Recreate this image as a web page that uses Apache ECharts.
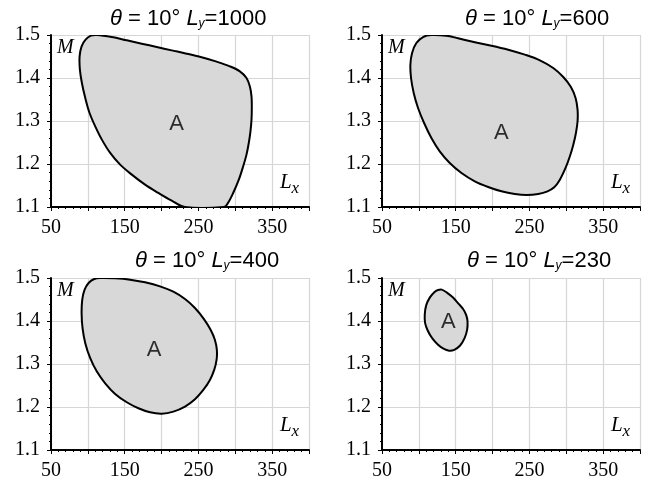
<!DOCTYPE html>
<html>
<head>
<meta charset="utf-8">
<script src="https://cdn.jsdelivr.net/npm/echarts@6/dist/echarts.min.js"></script>
<style>
  html, body { margin: 0; padding: 0; background: #fff; }
  #chart { width: 651px; height: 483px; }
</style>
</head>
<body>
<div id="chart"></div>
<script>
// Feasible region "A" in the (Lx, M) plane for theta = 10 deg and four Ly values.
const thetaDeg = 10;
const lyValues = ['1000', '600', '400', '230'];

// Axis ranges and labelled ticks
const xRange = [50, 400];
const xLabelled = [50, 150, 250, 350];
const yRange = [1.1, 1.5];
const yLabelled = ['1.1', '1.2', '1.3', '1.4', '1.5'];

// Region outlines, [Lx, M], traced clockwise from the top
const regionLy1000 = [
  [112.2, 1.5000], [132.5, 1.4953], [152.8, 1.4876], [173.1, 1.4798], [193.4, 1.4721],
  [213.7, 1.4643], [234.0, 1.4566], [254.3, 1.4481], [274.6, 1.4380], [292.6, 1.4272],
  [306.2, 1.4155], [315.2, 1.4000], [319.7, 1.3806], [322.0, 1.3574], [322.4, 1.3303],
  [322.0, 1.3031], [320.6, 1.2760], [318.3, 1.2489], [315.2, 1.2218], [310.7, 1.1946],
  [304.8, 1.1636], [297.1, 1.1326], [289.5, 1.1078], [284.5, 1.1000], [231.8, 1.1000],
  [213.7, 1.1148], [195.7, 1.1326], [177.6, 1.1520], [159.6, 1.1753], [143.8, 1.1985],
  [130.3, 1.2257], [119.0, 1.2567], [110.0, 1.2876], [102.3, 1.3187], [96.5, 1.3535],
  [91.9, 1.3884], [89.2, 1.4194], [88.8, 1.4504], [91.5, 1.4737], [96.9, 1.4892],
  [104.1, 1.4984]
];
const regionLy600 = [
  [117.0, 1.5000], [137.4, 1.4984], [153.2, 1.4923], [175.9, 1.4830], [198.5, 1.4752],
  [221.2, 1.4659], [243.8, 1.4543], [264.2, 1.4411], [282.3, 1.4233], [295.9, 1.4024],
  [306.3, 1.3791], [312.6, 1.3535], [315.3, 1.3264], [315.3, 1.2993], [313.1, 1.2722],
  [309.5, 1.2450], [304.9, 1.2179], [299.0, 1.1908], [291.3, 1.1636], [283.6, 1.1458],
  [274.6, 1.1365], [261.9, 1.1303], [246.1, 1.1280], [230.2, 1.1303], [212.1, 1.1365],
  [194.0, 1.1466], [175.9, 1.1598], [157.8, 1.1791], [141.9, 1.2024], [128.3, 1.2295],
  [117.0, 1.2605], [107.1, 1.2954], [98.9, 1.3303], [93.0, 1.3652], [89.4, 1.4000],
  [88.5, 1.4310], [90.8, 1.4582], [96.6, 1.4814], [105.7, 1.4953]
];
const regionLy400 = [
  [116.7, 1.5000], [137.0, 1.4992], [157.3, 1.4961], [177.6, 1.4899], [197.9, 1.4806],
  [216.0, 1.4681], [231.8, 1.4510], [245.3, 1.4301], [257.5, 1.4044], [266.5, 1.3796],
  [272.3, 1.3563], [275.0, 1.3329], [274.6, 1.3096], [271.4, 1.2863], [265.6, 1.2630],
  [256.6, 1.2397], [245.3, 1.2180], [231.8, 1.2009], [216.0, 1.1892], [200.2, 1.1845],
  [184.4, 1.1876], [168.6, 1.1970], [152.8, 1.2110], [137.0, 1.2304], [123.5, 1.2552],
  [112.2, 1.2824], [103.2, 1.3135], [96.5, 1.3485], [92.8, 1.3834], [91.5, 1.4184],
  [92.4, 1.4495], [95.6, 1.4728], [101.0, 1.4883], [108.6, 1.4977]
];
const regionLy230 = [
  [131, 1.473], [138, 1.466], [146, 1.455], [154, 1.440], [160, 1.428], [164, 1.415],
  [166, 1.400], [165.5, 1.380], [162, 1.360], [156, 1.343], [148, 1.333], [141, 1.331],
  [134, 1.335], [126, 1.345], [118, 1.360], [112, 1.378], [108.5, 1.395], [108, 1.415],
  [110, 1.437], [115, 1.455], [121, 1.467], [126, 1.472]
];
const regions = [regionLy1000, regionLy600, regionLy400, regionLy230];

// Where the "A" tag sits inside each region
const tagPoints = [[220.5, 1.294], [212, 1.272], [190, 1.333], [140, 1.397]];

// Panel layout
const panels = [
  { left: 51, top: 35, width: 258, height: 172, titleLeft: 110, titleTop: 8 },
  { left: 382, top: 35, width: 258, height: 172, titleLeft: 465, titleTop: 8 },
  { left: 51, top: 278, width: 258, height: 172, titleLeft: 135, titleTop: 250 },
  { left: 382, top: 278, width: 258, height: 172, titleLeft: 467, titleTop: 250 }
];

const SANS = '"Liberation Sans", Arial, sans-serif';
const SERIF = '"Liberation Serif", "Times New Roman", serif';
const GRID_GRAY = '#d6d6d6';
const FILL_GRAY = '#d8d8d8';

const option = {
  animation: false,
  backgroundColor: '#fff',
  title: panels.map((p, i) => ({
    text: '{n|\u03b8} = ' + thetaDeg + '\u00b0 {i|L}{s|y}=' + lyValues[i],
    left: p.titleLeft,
    top: p.titleTop,
    padding: 0,
    textStyle: {
      fontFamily: SANS, fontSize: 22, fontWeight: 'normal', color: '#000',
      rich: {
        n: { fontFamily: SANS, fontSize: 22, fontStyle: 'italic', color: '#000' },
        i: { fontFamily: SANS, fontSize: 22, fontStyle: 'italic', color: '#000' },
        s: { fontFamily: SANS, fontSize: 12, fontStyle: 'italic', color: '#000',
             verticalAlign: 'bottom', padding: [9, 0, 0, 0] }
      }
    }
  })),
  grid: panels.map(p => ({
    left: p.left, top: p.top, width: p.width, height: p.height, containLabel: false
  })),
  xAxis: panels.map((p, i) => ({
    type: 'value', gridIndex: i, min: xRange[0], max: xRange[1], interval: 50,
    axisLine: { show: true, onZero: false, lineStyle: { color: '#000', width: 2 } },
    axisTick: { show: true, length: 4, lineStyle: { color: '#000', width: 1 } },
    minorTick: { show: true, splitNumber: 5, length: 2, lineStyle: { color: '#000', width: 1 } },
    splitLine: { show: true, lineStyle: { color: GRID_GRAY, width: 1.2 } },
    axisLabel: {
      show: true, margin: 11, fontFamily: SERIF, fontSize: 20, color: '#000',
      showMinLabel: true, showMaxLabel: true,
      formatter: v => (xLabelled.indexOf(v) >= 0 ? String(v) : '')
    }
  })),
  yAxis: panels.map((p, i) => ({
    type: 'value', gridIndex: i, min: yRange[0], max: yRange[1], interval: 0.1,
    axisLine: { show: true, onZero: false, lineStyle: { color: '#000', width: 2 } },
    axisTick: { show: true, length: 4, lineStyle: { color: '#000', width: 1 } },
    minorTick: { show: true, splitNumber: 5, length: 2, lineStyle: { color: '#000', width: 1 } },
    splitLine: { show: true, lineStyle: { color: GRID_GRAY, width: 1.2 } },
    axisLabel: {
      show: true, margin: 11, fontFamily: SERIF, fontSize: 20, color: '#000',
      showMinLabel: true, showMaxLabel: true,
      formatter: v => {
        const s = v.toFixed(1);
        return yLabelled.indexOf(s) >= 0 ? s : '';
      }
    }
  })),
  graphic: panels.flatMap(p => [
    { type: 'text', x: p.left + 6, y: p.top + 13, silent: true,
      style: { text: 'M', fontFamily: SERIF, fontSize: 20, fontStyle: 'italic', fill: '#000',
               align: 'left', verticalAlign: 'middle' } },
    { type: 'text', x: p.left + p.width - 29, y: p.top + p.height - 25, silent: true,
      style: { text: 'L', fontFamily: SERIF, fontSize: 21, fontStyle: 'italic', fill: '#000',
               align: 'left', verticalAlign: 'middle' } },
    { type: 'text', x: p.left + p.width - 17.5, y: p.top + p.height - 18.5, silent: true,
      style: { text: 'x', fontFamily: SERIF, fontSize: 17, fontStyle: 'italic', fill: '#000',
               align: 'left', verticalAlign: 'middle' } }
  ]),
  series: [
    ...regions.map((pts, i) => ({
      type: 'custom',
      xAxisIndex: i, yAxisIndex: i,
      clip: true,
      z: 2,
      data: [0],
      renderItem: (params, api) => ({
        type: 'polygon',
        shape: { points: pts.map(pt => api.coord(pt)), smooth: 0.35 },
        style: { fill: FILL_GRAY, stroke: '#000', lineWidth: 2 }
      })
    })),
    ...tagPoints.map((pt, i) => ({
      type: 'scatter',
      xAxisIndex: i, yAxisIndex: i,
      z: 3,
      symbolSize: 1,
      itemStyle: { color: 'rgba(0,0,0,0)' },
      data: [pt],
      label: {
        show: true, position: 'inside', formatter: 'A',
        fontFamily: SANS, fontSize: 22, color: '#000'
      }
    }))
  ]
};

const chart = echarts.init(document.getElementById('chart'), null, { renderer: 'canvas' });
chart.setOption(option);
</script>
</body>
</html>
